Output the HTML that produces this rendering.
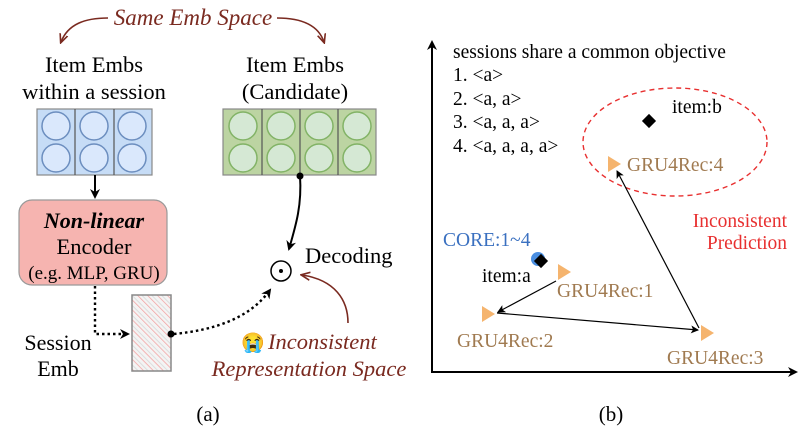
<!DOCTYPE html>
<html><head><meta charset="utf-8"><style>
html,body{margin:0;padding:0;background:#fff;width:812px;height:434px;overflow:hidden}
text{font-family:"Liberation Serif",serif}
</style></head><body>
<svg width="812" height="434" viewBox="0 0 812 434" xmlns="http://www.w3.org/2000/svg">
<defs>
<marker id="ah" markerWidth="10" markerHeight="10" refX="8" refY="5" orient="auto" markerUnits="userSpaceOnUse"><path d="M0,0 L10,5 L0,10 L3,5 Z" fill="#000"/></marker>
<marker id="ar" markerWidth="10" markerHeight="10" refX="8" refY="5" orient="auto" markerUnits="userSpaceOnUse"><path d="M0,1 L9,5 L0,9" fill="none" stroke="#7a2a20" stroke-width="1.6"/></marker>
<marker id="as" markerWidth="8" markerHeight="8" refX="7" refY="4" orient="auto" markerUnits="userSpaceOnUse"><path d="M0,0 L8,4 L0,8 L2,4 Z" fill="#000"/></marker>
<pattern id="hatch" width="7" height="7" patternUnits="userSpaceOnUse" patternTransform="rotate(-45)">
<rect width="7" height="7" fill="#f4f4f4"/><line x1="0" y1="0" x2="0" y2="7" stroke="#f3a0a0" stroke-width="1.5"/><line x1="3.5" y1="0" x2="3.5" y2="7" stroke="#ddd" stroke-width="1"/></pattern>
</defs>
<text x="193" y="25" font-size="23" font-style="italic" fill="#7a2a20" text-anchor="middle">Same Emb Space</text>
<path d="M108,18 C85,18 68,24 61,42" fill="none" stroke="#7a2a20" stroke-width="1.6" marker-end="url(#ar)"/>
<path d="M277,18 C300,18 318,24 324,42" fill="none" stroke="#7a2a20" stroke-width="1.6" marker-end="url(#ar)"/>
<text x="94" y="72" font-size="22.5" text-anchor="middle">Item Embs</text>
<text x="94" y="99" font-size="22.5" text-anchor="middle">within a session</text>
<text x="295" y="72" font-size="22.5" text-anchor="middle">Item Embs</text>
<text x="295" y="99" font-size="22.5" text-anchor="middle">(Candidate)</text>
<rect x="37" y="109" width="115" height="66" fill="#c6dcf6" stroke="#888" stroke-width="1.2"/>
<line x1="75" y1="109" x2="75" y2="175" stroke="#555" stroke-width="1.2"/>
<line x1="114" y1="109" x2="114" y2="175" stroke="#555" stroke-width="1.2"/>
<g fill="#dae8fc" stroke="#6c8ebf" stroke-width="1.5">
<circle cx="56" cy="126" r="14"/><circle cx="94" cy="126" r="14"/><circle cx="132" cy="126" r="14"/>
<circle cx="56" cy="158" r="14"/><circle cx="94" cy="158" r="14"/><circle cx="132" cy="158" r="14"/></g>
<rect x="223" y="109" width="153" height="66" fill="#bcd4a2" stroke="#888" stroke-width="1.2"/>
<line x1="262" y1="109" x2="262" y2="175" stroke="#555" stroke-width="1.2"/>
<line x1="300" y1="109" x2="300" y2="175" stroke="#555" stroke-width="1.2"/>
<line x1="338" y1="109" x2="338" y2="175" stroke="#555" stroke-width="1.2"/>
<g fill="#d5e8d4" stroke="#82b366" stroke-width="1.5">
<circle cx="243" cy="126" r="14"/><circle cx="281" cy="126" r="14"/><circle cx="319" cy="126" r="14"/><circle cx="357" cy="126" r="14"/>
<circle cx="243" cy="158" r="14"/><circle cx="281" cy="158" r="14"/><circle cx="319" cy="158" r="14"/><circle cx="357" cy="158" r="14"/></g>
<line x1="95" y1="175" x2="95" y2="197" stroke="#000" stroke-width="2" marker-end="url(#ah)"/>
<rect x="19" y="200" width="148" height="85" rx="13" fill="#f6b4b0" stroke="#999" stroke-width="1.2"/>
<text x="94" y="228" font-size="22" font-weight="bold" font-style="italic" text-anchor="middle">Non-linear</text>
<text x="94" y="254" font-size="22.5" text-anchor="middle">Encoder</text>
<text x="94" y="279" font-size="19" text-anchor="middle">(e.g. MLP, GRU)</text>
<path d="M95,286 L95,334 L128,334" fill="none" stroke="#000" stroke-width="2.4" stroke-dasharray="2.5,3" marker-end="url(#ah)"/>
<rect x="132" y="295" width="39" height="76" fill="url(#hatch)" stroke="#888" stroke-width="1.5"/>
<text x="58" y="350" font-size="22" text-anchor="middle">Session</text>
<text x="58" y="376" font-size="22" text-anchor="middle">Emb</text>
<circle cx="171" cy="334" r="3.5" fill="#000"/>
<path d="M174,334 C215,330 250,318 270,290" fill="none" stroke="#000" stroke-width="2.4" stroke-dasharray="2.5,3" marker-end="url(#ah)"/>
<circle cx="281" cy="271" r="10" fill="none" stroke="#000" stroke-width="1.5"/>
<circle cx="281" cy="271" r="2" fill="#000"/>
<text x="305" y="263" font-size="22.5">Decoding</text>
<circle cx="300" cy="176" r="3.5" fill="#000"/>
<path d="M300,176 C302,205 296,225 289,249" fill="none" stroke="#000" stroke-width="2" marker-end="url(#ah)"/>
<path d="M348,323 C348,300 335,280 302,275" fill="none" stroke="#7a2a20" stroke-width="1.6" marker-end="url(#ar)"/>
<text x="241" y="349" font-size="19">😭</text>
<text x="268" y="349" font-size="22.5" font-style="italic" fill="#7a2a20">Inconsistent</text>
<text x="309" y="376" font-size="22.5" font-style="italic" fill="#7a2a20" text-anchor="middle">Representation Space</text>
<text x="208" y="421" font-size="21" text-anchor="middle">(a)</text>
<line x1="432" y1="372" x2="432" y2="42" stroke="#000" stroke-width="2" marker-end="url(#ah)"/>
<line x1="431" y1="372" x2="796" y2="372" stroke="#000" stroke-width="2" marker-end="url(#ah)"/>
<g font-size="19.5">
<text x="453" y="58">sessions share a common objective</text>
<text x="453" y="81">1. &lt;a&gt;</text>
<text x="453" y="105">2. &lt;a, a&gt;</text>
<text x="453" y="128">3. &lt;a, a, a&gt;</text>
<text x="453" y="152">4. &lt;a, a, a, a&gt;</text>
</g>
<ellipse cx="675" cy="142" rx="92" ry="54" fill="none" stroke="#e83030" stroke-width="1.4" stroke-dasharray="5,4"/>
<rect x="644" y="116" width="10" height="10" fill="#000" transform="rotate(45 649 121)"/>
<text x="672" y="113" font-size="19.5">item:b</text>
<polygon points="608,156 621,164 608,172" fill="#f5b46e"/>
<text x="627" y="171" font-size="19.5" fill="#a07a50">GRU4Rec:4</text>
<text x="787" y="227" font-size="19.5" fill="#e83030" text-anchor="end">Inconsistent</text>
<text x="787" y="249" font-size="19.5" fill="#e83030" text-anchor="end">Prediction</text>
<text x="443" y="246" font-size="19.5" fill="#3a70c0">CORE:1~4</text>
<circle cx="538" cy="259" r="7" fill="#4a8ee0"/>
<rect x="536" y="256" width="10" height="10" fill="#000" transform="rotate(45 541 261)"/>
<text x="482" y="282" font-size="19.5">item:a</text>
<polygon points="558,264 571,272 558,280" fill="#f5b46e"/>
<text x="557" y="297" font-size="19.5" fill="#a07a50">GRU4Rec:1</text>
<polygon points="482,306 495,314 482,322" fill="#f5b46e"/>
<text x="457" y="347" font-size="19.5" fill="#a07a50">GRU4Rec:2</text>
<polygon points="701,325 714,333 701,341" fill="#f5b46e"/>
<text x="667" y="364" font-size="19.5" fill="#a07a50">GRU4Rec:3</text>
<line x1="556" y1="281" x2="498" y2="312" stroke="#000" stroke-width="1.2" marker-end="url(#as)"/>
<line x1="497" y1="313" x2="698" y2="330" stroke="#000" stroke-width="1.2" marker-end="url(#as)"/>
<line x1="699" y1="328" x2="617" y2="171" stroke="#000" stroke-width="1.2" marker-end="url(#as)"/>
<text x="611" y="421" font-size="21" text-anchor="middle">(b)</text>
</svg>
</body></html>
